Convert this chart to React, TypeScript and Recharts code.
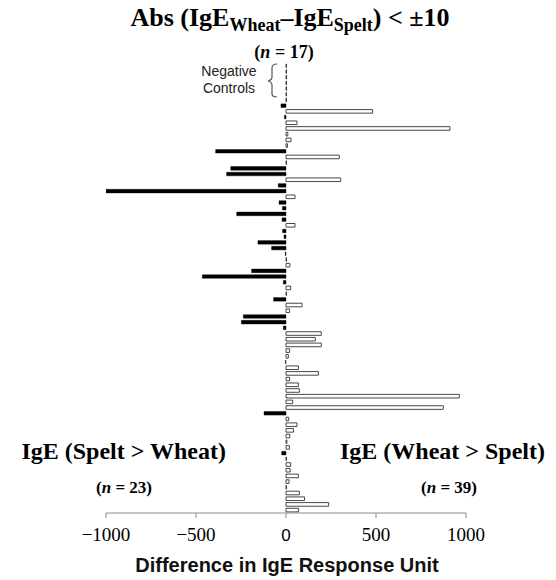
import React from 'react'
import { BarChart, Bar, XAxis, YAxis, Cell } from 'recharts'

// near-zero rows at the top (negative controls)
const controlDiffs = [3, 3, 3, 3, 3, 3, 3]

// IgE wheat minus IgE spelt, one value per serum, top to bottom
const sampleDiffs = [
   -28, 481, -9, 61, 911, 10, 28, 8, -391, 296,
   3, -307, -330, 304, -43, -1000, 50, -39, -20, -274,
   -22, 50, -19, -11, -156, -80, -4, 3, 22, -191,
   -465, -15, 26, 3, -69, 89, 20, -237, -248, -15,
   196, 163, 196, 20, 13, -3, 69, 180, 20, 69,
   74, 963, 37, 874, -122, 15, 61, 42, 21, 5,
   19, -24, 3, 26, 23, 69, 17, 3, 74, 103,
   237, 70,
]

const xTicks = [-1000, -500, 0, 500, 1000]

const rows = [...controlDiffs, ...sampleDiffs].map((diff, i) => ({ row: `s${i + 1}`, diff }))

const serif = "'Liberation Serif', 'Times New Roman', serif"
const sans = "'Liberation Sans', Arial, sans-serif"

const AxisTick = (props: any) => {
   const { x, y, payload } = props
   const v = payload.value
   if (v === 0) {
      return (
         <text x={x} y={y} dy={21} textAnchor='middle' fontFamily={sans} fontSize={17} fill='#000'>
            0
         </text>
      )
   }
   const label = v < 0 ? `\u2212${Math.abs(v)}` : `${v}`
   return (
      <text x={x} y={y} dy={21} textAnchor='middle' fontFamily={serif} fontSize={19} fill='#000'>
         {label}
      </text>
   )
}

const Annotations = () => (
   <svg width={556} height={580} style={{ position: 'absolute', left: 0, top: 0, pointerEvents: 'none' }}>
      <text x={290} y={26} textAnchor='middle' fontFamily={serif} fontWeight='bold' fontSize={26} fill='#000'>
         Abs (IgE
         <tspan fontSize={18} dy={5}>Wheat</tspan>
         <tspan dy={-5}>–IgE</tspan>
         <tspan fontSize={18} dy={5}>Spelt</tspan>
         <tspan dy={-5}>) &lt; ±10</tspan>
      </text>
      <text x={284} y={58} textAnchor='middle' fontFamily={serif} fontWeight='bold' fontSize={18} fill='#000'>
         (<tspan fontStyle='italic'>n</tspan> = 17)
      </text>
      <text x={229} y={76} textAnchor='middle' fontFamily={sans} fontSize={14} fill='#222'>
         Negative
      </text>
      <text x={229} y={93} textAnchor='middle' fontFamily={sans} fontSize={14} fill='#222'>
         Controls
      </text>
      <path
         d='M277,64 Q272,64 272,68 L272,77 Q272,80 268,81 Q272,82 272,85 L272,94 Q272,97 277,97'
         fill='none'
         stroke='#555'
         strokeWidth={1.2}
      />
      <text x={226} y={459} textAnchor='end' fontFamily={serif} fontWeight='bold' fontSize={24} fill='#000'>
         IgE (Spelt &gt; Wheat)
      </text>
      <text x={152} y={493} textAnchor='end' fontFamily={serif} fontWeight='bold' fontSize={17} fill='#000'>
         (<tspan fontStyle='italic'>n</tspan> = 23)
      </text>
      <text x={340} y={459} textAnchor='start' fontFamily={serif} fontWeight='bold' fontSize={24} fill='#000'>
         IgE (Wheat &gt; Spelt)
      </text>
      <text x={477} y={493} textAnchor='end' fontFamily={serif} fontWeight='bold' fontSize={17} fill='#000'>
         (<tspan fontStyle='italic'>n</tspan> = 39)
      </text>
      <text x={287} y={572} textAnchor='middle' fontFamily={sans} fontWeight='bold' fontSize={20} fill='#111'>
         Difference in IgE Response Unit
      </text>
   </svg>
)

const App = () => (
   <div style={{ position: 'absolute', left: 0, top: 0, width: 556, height: 580, background: '#fff' }}>
      <BarChart
         width={556}
         height={580}
         data={rows}
         layout='vertical'
         margin={{ top: 63, right: 90, left: 106, bottom: 37 }}
      >
         <XAxis
            type='number'
            domain={[-1000, 1000]}
            ticks={xTicks}
            interval={0}
            height={30}
            stroke='#8c8c8c'
            tickSize={5}
            tick={<AxisTick />}
            allowDataOverflow
         />
         <YAxis type='category' dataKey='row' hide />
         <Bar dataKey='diff' barSize={3.6} isAnimationActive={false}>
            {rows.map(r => (
               <Cell
                  key={r.row}
                  fill={r.diff < 0 ? '#000' : '#fff'}
                  stroke={r.diff < 0 ? '#000' : '#333'}
                  strokeWidth={r.diff < 0 ? 0.4 : 0.9}
               />
            ))}
         </Bar>
      </BarChart>
      <Annotations />
   </div>
)

export default App
